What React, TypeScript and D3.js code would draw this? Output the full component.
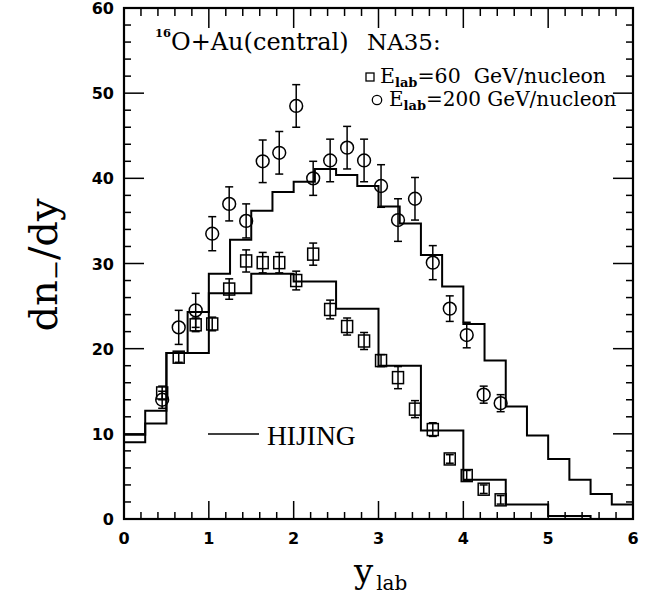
import React from 'react';
import * as d3 from 'd3';

const W = 653;
const H = 596;

const xTicks = [0, 1, 2, 3, 4, 5, 6];
const yTicks = [0, 10, 20, 30, 40, 50, 60];

// HIJING histograms (bin edges + bin values)
const hijing200Edges = [0, 0.25, 0.5, 0.75, 1.0, 1.25, 1.5, 1.75, 2.0, 2.25, 2.5, 2.75, 3.0, 3.25, 3.5, 3.75, 4.0, 4.25, 4.5, 4.75, 5.0, 5.25, 5.5, 5.75, 6.0];
const hijing200Values = [9.0, 12.7, 19.5, 24.3, 28.8, 32.8, 36.2, 38.4, 39.6, 41.1, 40.4, 39.1, 36.7, 34.7, 31.0, 27.3, 22.9, 18.6, 13.2, 9.8, 7.05, 4.6, 2.95, 1.7];
const hijing60Edges = [0, 0.25, 0.5, 1.0, 1.5, 2.0, 2.5, 3.0, 3.5, 4.0, 4.5, 5.0, 5.5, 6.0];
const hijing60Values = [9.9, 11.2, 19.5, 26.5, 28.8, 27.9, 24.7, 18.0, 10.4, 4.6, 1.7, 0.35, 0];

// NA35 data, E_lab = 60 GeV/nucleon (squares)
const na60X = [0.45, 0.645, 0.845, 1.04, 1.24, 1.44, 1.635, 1.83, 2.03, 2.23, 2.43, 2.63, 2.83, 3.03, 3.23, 3.43, 3.64, 3.84, 4.04, 4.24, 4.44];
const na60Y = [14.8, 19.0, 22.8, 22.9, 27.0, 30.3, 30.1, 30.1, 28.0, 31.1, 24.6, 22.6, 20.9, 18.6, 16.6, 12.9, 10.5, 7.05, 5.1, 3.5, 2.25];
const na60Err = [0.8, 0.6, 0.8, 0.8, 1.2, 1.3, 1.2, 1.2, 1.1, 1.3, 1.1, 1.0, 1.0, 0.7, 1.3, 1.0, 0.8, 0.5, 0.6, 0.5, 0.5];

// NA35 data, E_lab = 200 GeV/nucleon (circles)
const na200X = [0.45, 0.645, 0.845, 1.04, 1.24, 1.44, 1.635, 1.83, 2.03, 2.23, 2.43, 2.63, 2.83, 3.03, 3.23, 3.43, 3.64, 3.84, 4.04, 4.24, 4.44];
const na200Y = [14.0, 22.5, 24.5, 33.5, 37.0, 35.0, 42.0, 43.0, 48.5, 40.0, 42.1, 43.6, 42.1, 39.1, 35.1, 37.6, 30.1, 24.7, 21.6, 14.6, 13.6];
const na200Err = [1.0, 2.0, 2.0, 2.0, 2.0, 2.0, 2.5, 2.5, 2.5, 2.0, 2.5, 2.5, 2.5, 2.5, 2.5, 2.5, 2.0, 1.5, 1.5, 1.0, 1.0];

const SERIF = "'DejaVu Serif', serif";
const TIMES = "'Liberation Serif', 'Times New Roman', serif";
const SANS = "'DejaVu Sans', sans-serif";

export default function App() {
  const x = d3.scaleLinear().domain([0, 6]).range([124, 633]);
  const y = d3.scaleLinear().domain([0, 60]).range([519, 8]);

  const stepLine = d3
    .line<[number, number]>()
    .x((d) => x(d[0]))
    .y((d) => y(d[1]))
    .curve(d3.curveStepAfter);

  const histPath = (edges: number[], vals: number[]) => {
    const pts: [number, number][] = vals.map((v, i) => [edges[i], v]);
    pts.push([edges[edges.length - 1], vals[vals.length - 1]]);
    return stepLine(pts) || '';
  };

  const xMinor = d3.range(0, 6.001, 0.2).filter((v) => Math.abs(v - Math.round(v)) > 1e-6);
  const yMinor = d3.range(0, 60.001, 2).filter((v) => v % 10 !== 0);

  const x0 = x(0), x1 = x(6), y0 = y(0), y1 = y(60);
  const major = 20, minor = 7;

  const errBar = (cx: number, cy: number, e: number, key: string) => {
    const px = x(cx);
    const top = y(cy + e), bot = y(cy - e);
    return (
      <g key={key} stroke="#000" strokeWidth={1.5}>
        <line x1={px} x2={px} y1={top} y2={bot} />
        <line x1={px - 4} x2={px + 4} y1={top} y2={top} />
        <line x1={px - 4} x2={px + 4} y1={bot} y2={bot} />
      </g>
    );
  };

  return (
    <svg
      width={W}
      height={H}
      style={{ position: 'fixed', left: 0, top: 0, background: '#fff' }}
      xmlns="http://www.w3.org/2000/svg"
    >
      <rect x={0} y={0} width={W} height={H} fill="#fff" />

      {/* ticks */}
      <g stroke="#000" strokeWidth={1.5}>
        {xTicks.map((t) => (
          <g key={'xt' + t}>
            <line x1={x(t)} x2={x(t)} y1={y0} y2={y0 - major + 2} />
            <line x1={x(t)} x2={x(t)} y1={y1} y2={y1 + major} />
          </g>
        ))}
        {xMinor.map((t, i) => (
          <g key={'xm' + i}>
            <line x1={x(t)} x2={x(t)} y1={y0} y2={y0 - minor} />
            <line x1={x(t)} x2={x(t)} y1={y1} y2={y1 + minor + 1} />
          </g>
        ))}
        {yTicks.map((t) => (
          <g key={'yt' + t}>
            <line x1={x0} x2={x0 + major} y1={y(t)} y2={y(t)} />
            <line x1={x1} x2={x1 - major} y1={y(t)} y2={y(t)} />
          </g>
        ))}
        {yMinor.map((t) => (
          <g key={'ym' + t}>
            <line x1={x0} x2={x0 + minor} y1={y(t)} y2={y(t)} />
            <line x1={x1} x2={x1 - minor} y1={y(t)} y2={y(t)} />
          </g>
        ))}
      </g>

      {/* frame */}
      <rect x={x0} y={y1} width={x1 - x0} height={y0 - y1} fill="none" stroke="#000" strokeWidth={2.2} />

      {/* tick labels */}
      <g fontFamily={SANS} fontWeight="bold" fontSize={16} fill="#000">
        {yTicks.map((t) => (
          <text key={'yl' + t} x={114} y={y(t) + 6} textAnchor="end">
            {t}
          </text>
        ))}
        {xTicks.map((t) => (
          <text key={'xl' + t} x={x(t)} y={544} textAnchor="middle">
            {t}
          </text>
        ))}
      </g>

      {/* HIJING histograms */}
      <path d={histPath(hijing200Edges, hijing200Values)} fill="none" stroke="#000" strokeWidth={2} />
      <path d={histPath(hijing60Edges, hijing60Values)} fill="none" stroke="#000" strokeWidth={2} />

      {/* 60 GeV squares */}
      {na60X.map((v, i) => errBar(v, na60Y[i], na60Err[i], 'e60' + i))}
      {na60X.map((v, i) => (
        <rect
          key={'s60' + i}
          x={x(v) - 5.5}
          y={y(na60Y[i]) - 6}
          width={11}
          height={12}
          fill="none"
          stroke="#000"
          strokeWidth={1.5}
        />
      ))}

      {/* 200 GeV circles */}
      {na200X.map((v, i) => errBar(v, na200Y[i], na200Err[i], 'e200' + i))}
      {na200X.map((v, i) => (
        <circle key={'c200' + i} cx={x(v)} cy={y(na200Y[i])} r={6.4} fill="none" stroke="#000" strokeWidth={1.5} />
      ))}

      {/* annotations */}
      <text x={155} y={37} fontFamily={SERIF} fontWeight="bold" fontSize={11.5}>16</text>
      <text x={171} y={50} fontFamily={SERIF} fontSize={24}>O+Au(central)</text>
      <text x={367} y={50} fontFamily={SERIF} fontSize={23}>NA35:</text>

      <rect x={366} y={73} width={8} height={8} fill="none" stroke="#000" strokeWidth={1.3} />
      <text x={380} y={83} fontFamily={SERIF} fontSize={20.5} xmlSpace="preserve" style={{ whiteSpace: 'pre' }}>
        E<tspan fontSize={13} fontWeight="bold" dy={4}>lab</tspan>
        <tspan dy={-4}>=60  GeV/nucleon</tspan>
      </text>

      <circle cx={377} cy={100} r={4.7} fill="none" stroke="#000" strokeWidth={1.3} />
      <text x={389} y={106} fontFamily={SERIF} fontSize={20} xmlSpace="preserve" style={{ whiteSpace: 'pre' }}>
        E<tspan fontSize={13} fontWeight="bold" dy={4}>lab</tspan>
        <tspan dy={-4}>=200 GeV/nucleon</tspan>
      </text>

      <line x1={208} x2={259} y1={434} y2={434} stroke="#000" strokeWidth={1.5} />
      <text x={267} y={445} fontFamily={TIMES} fontSize={27.5}>HIJING</text>

      {/* axis titles */}
      <text transform="translate(57,265) rotate(-90)" textAnchor="middle" fontFamily={SERIF} fontSize={40}>
        dn<tspan fontSize={24} dy={7}>−</tspan>
        <tspan dy={-7}>/dy</tspan>
      </text>
      <text x={354} y={583} fontFamily={SERIF} fontSize={34}>
        y<tspan fontSize={20} dx={3} dy={7}>lab</tspan>
      </text>
    </svg>
  );
}
